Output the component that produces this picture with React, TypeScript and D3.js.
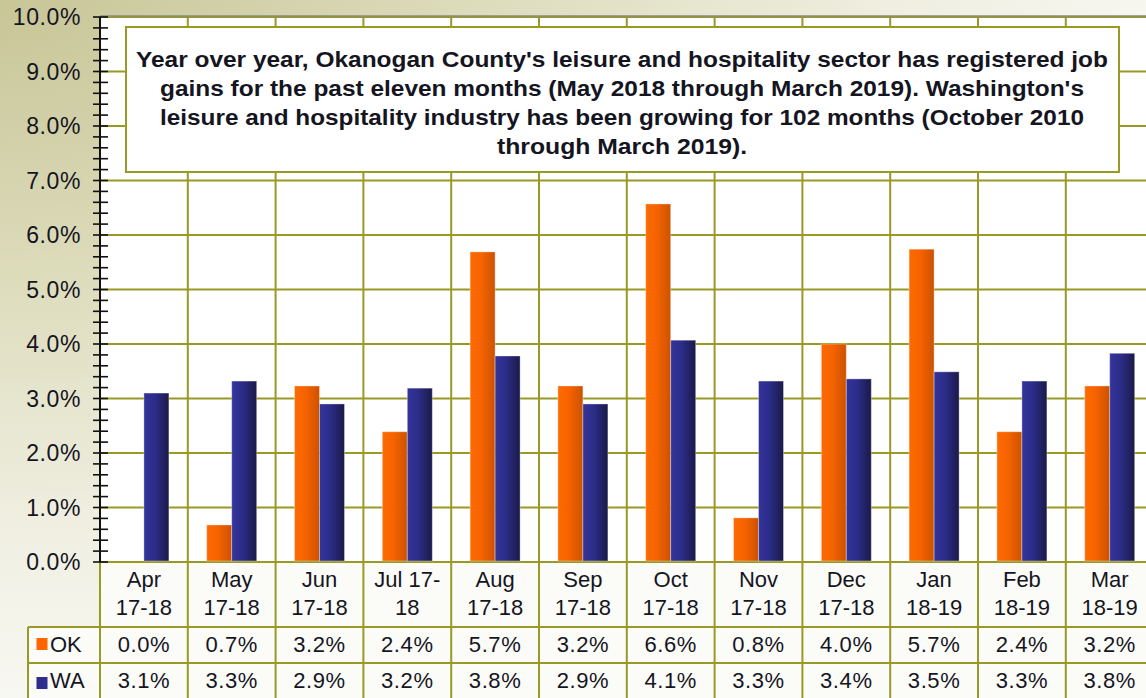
import React from "react";
import * as d3 from "d3";

const categories = ["Apr|17-18", "May|17-18", "Jun|17-18", "Jul 17-|18", "Aug|17-18", "Sep|17-18", "Oct|17-18", "Nov|17-18", "Dec|17-18", "Jan|18-19", "Feb|18-19", "Mar|18-19"];
const okValues = [0.0, 0.68, 3.23, 2.39, 5.69, 3.23, 6.57, 0.81, 4.0, 5.74, 2.39, 3.23];
const waValues = [3.1, 3.32, 2.9, 3.19, 3.78, 2.9, 4.07, 3.32, 3.36, 3.49, 3.32, 3.83];
const seriesNames = ["OK", "WA"];
const yTicks = [0, 1, 2, 3, 4, 5, 6, 7, 8, 9, 10];
const noteLines = [
  "Year over year, Okanogan County's leisure and hospitality sector has registered job",
  "gains for the past eleven months (May 2018 through March 2019). Washington's",
  "leisure and hospitality industry has been growing for 102 months (October 2010",
  "through March 2019).",
];

const W = 1146;
const H = 698;
const L = 100;
const T = 17;
const B = 562;
const STEP = 87.8;
const R = L + STEP * categories.length;
const OLIVE = "#999926";
const FONT = "'Liberation Sans', Arial, sans-serif";
const TXT = "#15151f";

export default function App() {
  const x = d3.scaleBand().domain(categories).range([L, R]).paddingInner(0).paddingOuter(0);
  const xs = d3.scaleBand().domain(seriesNames).range([0, 50]);
  const y = d3.scaleLinear().domain([0, 10]).range([B, T]);
  const minor = d3.range(0, 10.001, 0.2);
  const series = [okValues, waValues];
  const rowTop = [627, 663];
  const rowBottom = 700;
  const fmt = (v: number) => v.toFixed(1) + "%";
  const noteW = [972, 924, 924, 250];

  return (
    <svg width={W} height={H} style={{ position: "absolute", left: 0, top: 0, display: "block" }} fontFamily={FONT}>
      <defs>
        <radialGradient id="bg" gradientUnits="userSpaceOnUse" cx={0} cy={0} r={1} gradientTransform="scale(1300,760)">
          <stop offset="0" stopColor="#c8c597" />
          <stop offset="0.35" stopColor="#dcdbba" />
          <stop offset="0.7" stopColor="#f0efe2" />
          <stop offset="1" stopColor="#fbfbf8" />
        </radialGradient>
        <linearGradient id="gOK" x1="0" x2="1" y1="0" y2="0">
          <stop offset="0" stopColor="#ff6a00" />
          <stop offset="0.45" stopColor="#f56300" />
          <stop offset="1" stopColor="#cc5200" />
        </linearGradient>
        <linearGradient id="gWA" x1="0" x2="1" y1="0" y2="0">
          <stop offset="0" stopColor="#34349c" />
          <stop offset="0.45" stopColor="#2c2c88" />
          <stop offset="1" stopColor="#1a1a48" />
        </linearGradient>
      </defs>
      <rect x={0} y={0} width={W} height={H} fill="url(#bg)" />
      {/* plot area */}
      <rect x={L} y={T} width={R - L} height={B - T} fill="#ffffff" />
      {/* table background */}
      <rect x={L} y={B} width={R - L} height={rowBottom - B} fill="#fbfbf7" />
      <rect x={28} y={rowTop[0]} width={L - 28} height={rowBottom - rowTop[0]} fill="#fbfbf7" />
      {/* horizontal gridlines */}
      {yTicks.map((t) => (
        <line key={"h" + t} x1={L} x2={R} y1={y(t)} y2={y(t)} stroke={OLIVE} strokeWidth={2} />
      ))}
      {/* vertical gridlines and table verticals */}
      {categories.map((c, i) => (
        <line key={"v" + i} x1={(x(c) as number) + STEP} x2={(x(c) as number) + STEP} y1={T} y2={rowBottom} stroke={OLIVE} strokeWidth={2} />
      ))}
      <line x1={L} x2={L} y1={B} y2={rowBottom} stroke={OLIVE} strokeWidth={2} />
      {/* table horizontals */}
      {rowTop.map((ry, i) => (
        <line key={"r" + i} x1={28} x2={R} y1={ry} y2={ry} stroke={OLIVE} strokeWidth={2} />
      ))}
      <line x1={28} x2={28} y1={rowTop[0]} y2={rowBottom} stroke={OLIVE} strokeWidth={2} />
      <line x1={L} x2={R} y1={T - 1} y2={T - 1} stroke="#8a8a80" strokeWidth={1.5} />
      {/* bars */}
      {series.map((vals, si) =>
        vals.map((v, i) => {
          const cx = (x(categories[i]) as number) + STEP / 2 - 25 + (xs(seriesNames[si]) as number);
          const h = B - y(v);
          if (h <= 0) return null;
          return (
            <rect key={si + "-" + i} x={cx} y={y(v)} width={xs.bandwidth()} height={h - 1}
              fill={si === 0 ? "url(#gOK)" : "url(#gWA)"} stroke="rgba(255,255,255,0.35)" strokeWidth={1} />
          );
        })
      )}
      {/* text box */}
      <rect x={126} y={27} width={993} height={145} fill="#ffffff" stroke={OLIVE} strokeWidth={2} />
      {noteLines.map((ln, i) => (
        <text key={"n" + i} x={622} y={67 + i * 29} textAnchor="middle" fontWeight="bold" fontSize={22}
          fill={TXT} textLength={noteW[i]} lengthAdjust="spacingAndGlyphs">
          {ln}
        </text>
      ))}
      {/* y axis */}
      <line x1={L} x2={L} y1={T} y2={B} stroke="#111" strokeWidth={2} />
      {minor.map((t, i) => (
        <line key={"m" + i} x1={93} x2={108} y1={y(t)} y2={y(t)} stroke="#111" strokeWidth={1.6} />
      ))}
      {yTicks.map((t) => (
        <text key={"yl" + t} x={81} y={y(t) + 8} textAnchor="end" fontSize={23} fill={TXT} letterSpacing={0.6}>
          {t.toFixed(1) + "%"}
        </text>
      ))}
      {/* category labels */}
      {categories.map((c, i) => {
        const [a, b] = c.split("|");
        const cx = (x(c) as number) + STEP / 2;
        return (
          <g key={"c" + i} fontSize={22} fill={TXT} textAnchor="middle">
            <text x={cx} y={587}>{a}</text>
            <text x={cx} y={615}>{b}</text>
          </g>
        );
      })}
      {/* table values */}
      {series.map((vals, si) =>
        vals.map((v, i) => (
          <text key={"tv" + si + i} x={(x(categories[i]) as number) + STEP / 2} y={si === 0 ? 652 : 688}
            textAnchor="middle" fontSize={22} fill={TXT} letterSpacing={0.6}>
            {fmt(v)}
          </text>
        ))
      )}
      {/* legend */}
      {seriesNames.map((s, si) => (
        <g key={"lg" + s}>
          <rect x={36.5} y={si === 0 ? 638 : 677} width={11} height={12} fill={si === 0 ? "#ff6600" : "#2e2e8c"} />
          <text x={50} y={si === 0 ? 652 : 688} fontSize={22} fill={TXT}>{s}</text>
        </g>
      ))}
    </svg>
  );
}
